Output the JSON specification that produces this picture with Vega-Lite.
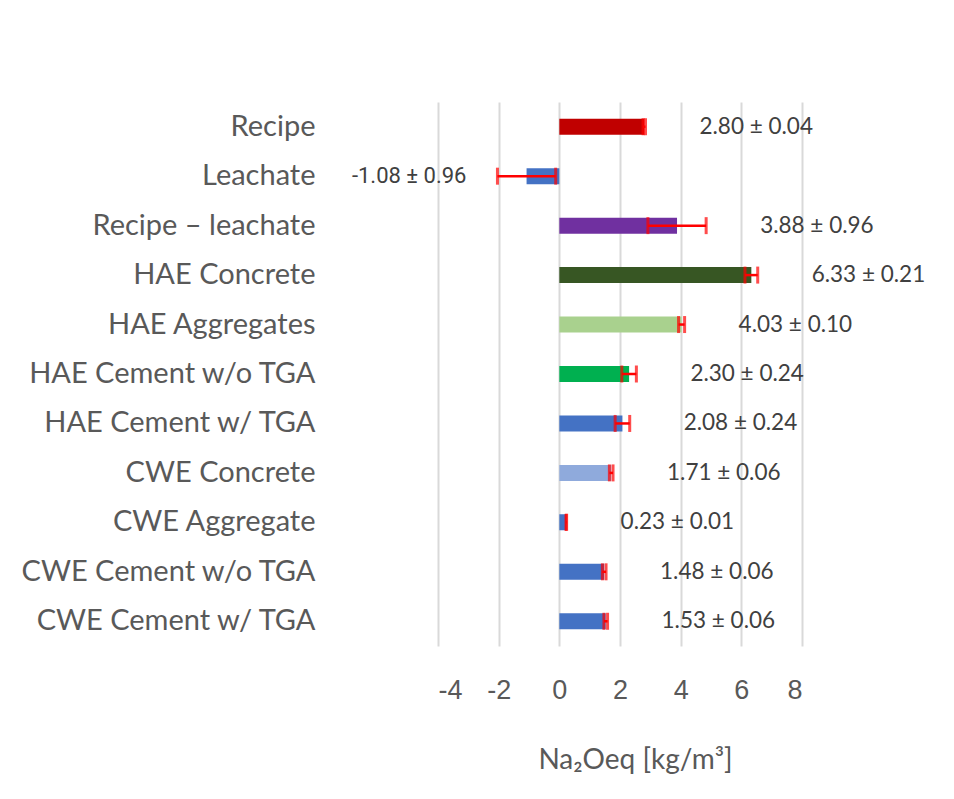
{
  "$schema": "https://vega.github.io/schema/vega-lite/v6.json",
  "autosize": "none",
  "width": 364,
  "height": 544,
  "padding": {"left": 438, "top": 102, "right": 152, "bottom": 153},
  "background": "white",
  "config": {"view": {"stroke": null}},
  "data": {"values": [
    {"name": "Recipe", "value": 2.80, "err": 0.04, "label": "2.80 ± 0.04"},
    {"name": "Leachate", "value": -1.08, "err": 0.96, "label": "-1.08  ±  0.96"},
    {"name": "Recipe – leachate", "value": 3.88, "err": 0.96, "label": "3.88 ± 0.96"},
    {"name": "HAE Concrete", "value": 6.33, "err": 0.21, "label": "6.33 ± 0.21"},
    {"name": "HAE Aggregates", "value": 4.03, "err": 0.10, "label": "4.03 ± 0.10"},
    {"name": "HAE Cement w/o TGA", "value": 2.30, "err": 0.24, "label": "2.30 ± 0.24"},
    {"name": "HAE Cement w/ TGA", "value": 2.08, "err": 0.24, "label": "2.08 ± 0.24"},
    {"name": "CWE Concrete", "value": 1.71, "err": 0.06, "label": "1.71 ± 0.06"},
    {"name": "CWE Aggregate", "value": 0.23, "err": 0.01, "label": "0.23 ± 0.01"},
    {"name": "CWE Cement w/o TGA", "value": 1.48, "err": 0.06, "label": "1.48 ± 0.06"},
    {"name": "CWE Cement w/ TGA", "value": 1.53, "err": 0.06, "label": "1.53 ± 0.06"}
  ]},
  "transform": [
    {"calculate": "datum.value - datum.err", "as": "lo"},
    {"calculate": "datum.value + datum.err", "as": "hi"}
  ],
  "encoding": {
    "y": {
      "field": "name", "type": "nominal", "sort": null,
      "scale": {"paddingInner": 0, "paddingOuter": 0},
      "axis": {
        "title": null, "ticks": false, "tickSize": 0, "domain": false,
        "labelPadding": 123, "labelFont": "Lato", "labelFontSize": 29,
        "labelColor": "#595959", "labelLimit": 400
      }
    }
  },
  "layer": [
    {
      "mark": {"type": "bar", "size": 16},
      "encoding": {
        "x": {
          "field": "value", "type": "quantitative",
          "scale": {"domain": [-4, 8], "nice": false, "zero": false},
          "axis": {
            "values": [-4, -2, 0, 2, 4, 6, 8],
            "labelExpr": "'' + datum.value",
            "title": "Na₂Oeq [kg/m³]",
            "domain": false, "ticks": false, "tickSize": 0,
            "grid": true, "gridColor": "#d9d9d9", "gridWidth": 2,
            "labelFont": "Liberation Sans", "labelFontSize": 27, "labelColor": "#595959",
            "labelPadding": 31,
            "titleFont": "Lato", "titleFontSize": 28, "titleFontWeight": "normal",
            "titleColor": "#595959", "titlePadding": 43, "titleX": 197, "titleAlign": "center"
          }
        },
        "color": {
          "field": "name", "type": "nominal", "legend": null,
          "scale": {
            "domain": ["Recipe", "Leachate", "Recipe – leachate", "HAE Concrete", "HAE Aggregates", "HAE Cement w/o TGA", "HAE Cement w/ TGA", "CWE Concrete", "CWE Aggregate", "CWE Cement w/o TGA", "CWE Cement w/ TGA"],
            "range": ["#C00000", "#4472C4", "#7030A0", "#375623", "#A9D18E", "#00B050", "#4472C4", "#8FAADC", "#4472C4", "#4472C4", "#4472C4"]
          }
        }
      }
    },
    {
      "mark": {"type": "rule", "color": "#FF0000", "strokeWidth": 2.5},
      "encoding": {"x": {"field": "lo", "type": "quantitative"}, "x2": {"field": "hi"}}
    },
    {
      "mark": {"type": "tick", "color": "#FF0000", "thickness": 3, "size": 17},
      "encoding": {"x": {"field": "lo", "type": "quantitative"}}
    },
    {
      "mark": {"type": "tick", "color": "#FF0000", "thickness": 3, "size": 17},
      "encoding": {"x": {"field": "hi", "type": "quantitative"}}
    },
    {
      "transform": [{"filter": "datum.value >= 0"}],
      "mark": {"type": "text", "align": "left", "baseline": "middle", "dx": 54, "font": "Lato", "fontSize": 22.5, "color": "#404040"},
      "encoding": {"x": {"field": "hi", "type": "quantitative"}, "text": {"field": "label"}}
    },
    {
      "transform": [{"filter": "datum.value < 0"}],
      "mark": {"type": "text", "align": "right", "baseline": "middle", "dx": -31, "font": "Roboto", "fontSize": 22, "color": "#404040"},
      "encoding": {"x": {"field": "lo", "type": "quantitative"}, "text": {"field": "label"}}
    }
  ]
}
